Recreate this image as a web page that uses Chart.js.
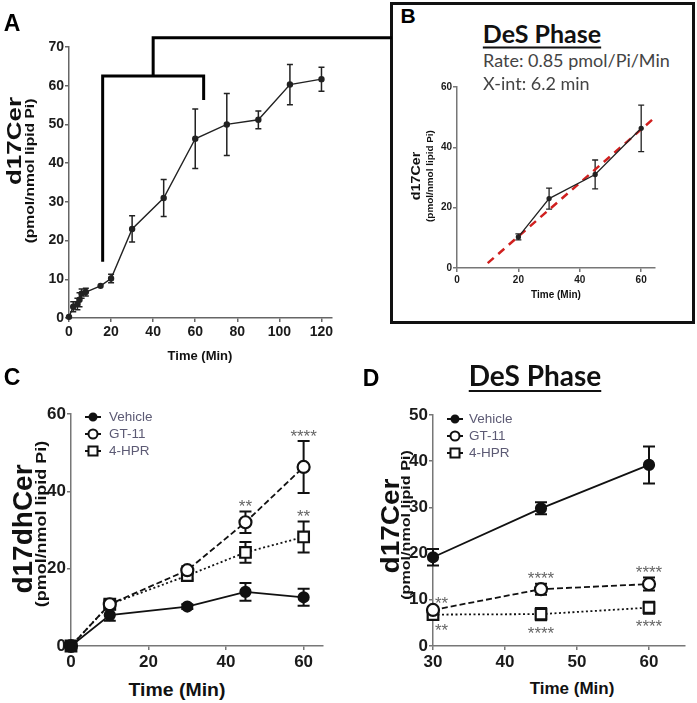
<!DOCTYPE html>
<html>
<head>
<meta charset="utf-8">
<title>d17Cer / d17dhCer time course</title>
<script src="https://cdn.jsdelivr.net/npm/chart.js@4.4.1/dist/chart.umd.min.js"></script>
<style>
  body { margin:0; background:#fff; }
  #page { position:relative; width:697px; height:703px; overflow:hidden; font-family:'Liberation Sans', Arial, sans-serif; }
  .t { position:absolute; white-space:nowrap; line-height:1; transform:translate(-50%,-50%); font-weight:bold; color:#111; }
  .letter { font-size:23px; color:#000; }
  .head { font-family:Lato, 'Open Sans', sans-serif; text-decoration:underline; text-decoration-thickness:2px; text-underline-offset:4px; }
  .note { position:absolute; white-space:nowrap; line-height:1; transform:translateY(-50%); font-family:Lato, 'Open Sans', sans-serif; font-size:18px; color:#444; }
  .box { position:absolute; }
  #boxB { position:absolute; left:390px; top:2px; width:299px; height:316px; border:3px solid #111; }
</style>
</head>
<body>
<div id="page">
  <div id="boxB"></div>

  <div class="box" style="left:0;top:0;width:392px;height:370px"><canvas id="chartA" width="392" height="370"></canvas></div>
  <div class="box" style="left:395px;top:75px;width:290px;height:230px"><canvas id="chartB" width="290" height="230"></canvas></div>
  <div class="box" style="left:0;top:400px;width:345px;height:275px"><canvas id="chartC" width="345" height="275"></canvas></div>
  <div class="box" style="left:350px;top:400px;width:347px;height:275px"><canvas id="chartD" width="347" height="275"></canvas></div>

  <div class="t letter" style="left:12px;top:23px">A</div>
  <div class="t letter" style="left:408px;top:15px;font-size:21px">B</div>
  <div class="t letter" style="left:12px;top:377px">C</div>
  <div class="t letter" style="left:371px;top:378px">D</div>

  <div class="t head" style="left:542px;top:33px;font-size:25px">DeS Phase</div>
  <div class="note" style="left:483px;top:60px">Rate: 0.85 pmol/Pi/Min</div>
  <div class="note" style="left:483px;top:83px">X-int: 6.2 min</div>
  <div class="t head" style="left:535px;top:375px;font-size:28px">DeS Phase</div>

  <!-- axis titles -->
  <div class="t" style="left:14px;top:141px;font-size:20px;transform:translate(-50%,-50%) rotate(-90deg) scaleX(1.3)">d17Cer</div>
  <div class="t" style="left:30px;top:171px;font-size:12px;transform:translate(-50%,-50%) rotate(-90deg) scaleX(1.3)">(pmol/nmol lipid Pi)</div>
  <div class="t" style="left:200px;top:355px;font-size:13px">Time (Min)</div>

  <div class="t" style="left:415px;top:176px;font-size:13px;transform:translate(-50%,-50%) rotate(-90deg) scaleX(1.1)">d17Cer</div>
  <div class="t" style="left:430px;top:176px;font-size:9px;transform:translate(-50%,-50%) rotate(-90deg) scaleX(1.1)">(pmol/nmol lipid Pi)</div>
  <div class="t" style="left:556px;top:295px;font-size:10px">Time (Min)</div>

  <div class="t" style="left:23px;top:529px;font-size:28px;transform:translate(-50%,-50%) rotate(-90deg)">d17dhCer</div>
  <div class="t" style="left:41px;top:524px;font-size:14px;transform:translate(-50%,-50%) rotate(-90deg) scaleX(1.28)">(pmol/nmol lipid Pi)</div>
  <div class="t" style="left:177px;top:690px;font-size:18px;transform:translate(-50%,-50%) scaleX(1.08)">Time (Min)</div>

  <div class="t" style="left:390px;top:526px;font-size:25px;transform:translate(-50%,-50%) rotate(-90deg) scaleX(1.12)">d17Cer</div>
  <div class="t" style="left:405px;top:525px;font-size:13px;transform:translate(-50%,-50%) rotate(-90deg) scaleX(1.24)">(pmol/nmol lipid Pi)</div>
  <div class="t" style="left:572px;top:688px;font-size:17px">Time (Min)</div>
</div>

<script>
// values
const timeA = [0, 2, 4, 5, 6, 8, 15, 20, 30, 45, 60, 75, 90, 105, 120];
const cerA = [0.3, 2.9, 3.6, 4.7, 6.3, 6.7, 8.3, 10.2, 23, 31, 46.3, 50, 51.2, 60.3, 61.7];
const cerErrA = [0, 1.3, 1.5, 1.8, 1.2, 1, 0, 1.1, 3.4, 4.8, 7.7, 8, 2.3, 5.2, 3.1];

const timeB = [20, 30, 45, 60];
const cerB = [10.3, 23, 31, 46.3];
const cerErrB = [1, 3.5, 4.8, 7.7];
const fitTimeB = [10, 64];
const fitCerB = [1.6, 49.5];

const seriesNames = ['Vehicle', 'GT-11', '4-HPR'];

const timeC = [0, 10, 30, 45, 60];
const vehicleC = [0, 8, 10.2, 14, 12.6];
const vehicleErrC = [0, 1.5, 0.6, 2.3, 2.2];
const gt11C = [0, 10.8, 19.6, 32, 46.3];
const gt11ErrC = [0, 1, 1, 2.8, 6.7];
const hprC = [0, 10.8, 18.2, 24.2, 28.2];
const hprErrC = [0, 1, 1, 2.7, 4];

const timeD = [30, 45, 60];
const vehicleD = [19.2, 29.8, 39.2];
const vehicleErrD = [1.8, 1.3, 4];
const gt11D = [7.8, 12.3, 13.4];
const gt11ErrD = [0.6, 1.2, 1.4];
const hprD = [6.8, 6.9, 8.3];
const hprErrD = [0.8, 1.3, 1.3];

// significance marks: [series, point, text, side]
const starsC = [[1, 3, '**', 'above'], [1, 4, '****', 'above'], [2, 4, '**', 'above']];
const starsD = [[1, 0, '**', 'aboveRight'], [2, 0, '**', 'belowRight'],
                [1, 1, '****', 'above'], [2, 1, '****', 'below'],
                [1, 2, '****', 'above'], [2, 2, '****', 'below']];

// bracket in A (data units)
const bracketA = { start: 16, end: 64, stem: 40, low: 14.5, top: 62.5, endLow: 56.3, high: 72.4 };

const SANS = "'Liberation Sans', Arial, sans-serif";
const pts = (xs, ys) => xs.map((x, i) => ({ x: x, y: ys[i] }));

const errorBars = {
  id: 'errorBars',
  beforeDatasetsDraw(chart) {
    const { ctx, scales: { x, y } } = chart;
    chart.data.datasets.forEach(ds => {
      if (!ds.errors) return;
      const cap = ds.cap || 4;
      ctx.save();
      ctx.strokeStyle = ds.borderColor;
      ctx.lineWidth = ds.errWidth || 1.5;
      ctx.setLineDash([]);
      ds.data.forEach((p, j) => {
        const e = ds.errors[j];
        if (!e) return;
        const px = x.getPixelForValue(p.x);
        const top = y.getPixelForValue(p.y + e), bot = y.getPixelForValue(p.y - e);
        ctx.beginPath();
        ctx.moveTo(px, top); ctx.lineTo(px, bot);
        ctx.moveTo(px - cap, top); ctx.lineTo(px + cap, top);
        ctx.moveTo(px - cap, bot); ctx.lineTo(px + cap, bot);
        ctx.stroke();
      });
      ctx.restore();
    });
  }
};

const starsPlugin = {
  id: 'stars',
  afterDatasetsDraw(chart, args, opts) {
    if (!opts.items) return;
    const { ctx, scales: { x, y } } = chart;
    ctx.save();
    ctx.fillStyle = '#666';
    ctx.font = opts.size + 'px ' + SANS;
    ctx.textBaseline = 'alphabetic';
    opts.items.forEach(it => {
      const ds = chart.data.datasets[it[0]];
      const p = ds.data[it[1]], e = ds.errors[it[1]] || 0;
      let px = x.getPixelForValue(p.x), py;
      const side = it[3];
      if (side === 'above') py = y.getPixelForValue(p.y + e) - opts.gap;
      else if (side === 'below') py = y.getPixelForValue(p.y - e) + opts.gap;
      else if (side === 'aboveRight') py = y.getPixelForValue(p.y) - 11;
      else py = y.getPixelForValue(p.y) + 12;
      if (side.endsWith('Right')) { ctx.textAlign = 'left'; px += 2; }
      else ctx.textAlign = 'center';
      ctx.fillText(it[2], px, py + opts.size * 0.57);
    });
    ctx.restore();
  }
};

const insideLegend = {
  id: 'insideLegend',
  afterDraw(chart, args, opts) {
    if (!opts.show) return;
    const { ctx, chartArea } = chart;
    chart.data.datasets.forEach((ds, i) => {
      const cx = chartArea.left + opts.left;
      const cy = chartArea.top + opts.top + i * opts.gap;
      ctx.save();
      ctx.strokeStyle = '#111';
      ctx.lineWidth = 2;
      ctx.beginPath(); ctx.moveTo(cx - 8, cy); ctx.lineTo(cx + 8, cy); ctx.stroke();
      ctx.fillStyle = ds.pointBackgroundColor;
      ctx.beginPath();
      if (ds.pointStyle === 'rect') {
        ctx.rect(cx - 4.5, cy - 4.5, 9, 9);
      } else {
        ctx.arc(cx, cy, ds.pointRadius - 1.5, 0, Math.PI * 2);
      }
      ctx.fill(); ctx.stroke();
      ctx.fillStyle = '#5c5a74';
      ctx.font = '13.5px ' + SANS;
      ctx.textBaseline = 'middle';
      ctx.textAlign = 'left';
      ctx.fillText(ds.label, cx + opts.text, cy);
      ctx.restore();
    });
  }
};

const bracketPlugin = {
  id: 'bracket',
  afterDraw(chart, args, opts) {
    if (!opts.show) return;
    const { ctx, scales: { x, y } } = chart;
    const X = v => x.getPixelForValue(v), Y = v => y.getPixelForValue(v);
    ctx.save();
    ctx.strokeStyle = '#000';
    ctx.lineWidth = 3;
    ctx.beginPath();
    ctx.moveTo(X(bracketA.start), Y(bracketA.low));
    ctx.lineTo(X(bracketA.start), Y(bracketA.top));
    ctx.lineTo(X(bracketA.end), Y(bracketA.top));
    ctx.lineTo(X(bracketA.end), Y(bracketA.endLow));
    ctx.moveTo(X(bracketA.stem), Y(bracketA.top));
    ctx.lineTo(X(bracketA.stem), Y(bracketA.high));
    ctx.lineTo(chart.width, Y(bracketA.high));
    ctx.stroke();
    ctx.restore();
  }
};

function axis(min, max, step, font, fit, color, pad) {
  return {
    type: 'linear', min: min, max: max,
    afterFit: fit,
    grid: { drawOnChartArea: false, drawTicks: true, tickLength: 4, color: color, lineWidth: 1.5 },
    border: { display: true, color: color, width: 1.5 },
    ticks: { stepSize: step, includeBounds: false, autoSkip: false, maxRotation: 0, padding: pad,
             color: '#1a1a1a', font: font }
  };
}

function makeChart(id, datasets, o) {
  return new Chart(document.getElementById(id), {
    type: 'line',
    data: { datasets: datasets },
    options: {
      responsive: false, animation: false, devicePixelRatio: 1,
      layout: { padding: o.pad },
      plugins: {
        legend: { display: false }, tooltip: { enabled: false },
        insideLegend: o.legend || {}, stars: o.stars || {}, bracket: o.bracket || {}
      },
      scales: {
        x: axis(o.x[0], o.x[1], o.x[2], o.font, s => { s.height = o.xh; }, o.axisColor, 2),
        y: axis(o.y[0], o.y[1], o.y[2], o.font, s => { s.width = o.yw; }, o.axisColor, 1)
      }
    },
    plugins: [errorBars, starsPlugin, insideLegend, bracketPlugin]
  });
}

const styles = [
  { dash: [], shape: 'circle', fill: '#111', r: 5 },
  { dash: [6, 3], shape: 'circle', fill: '#fff', r: 6 },
  { dash: [2, 2.5], shape: 'rect', fill: '#fff', r: 7.5 }
];

function groupSets(time, vals, errs) {
  return vals.map((v, i) => ({
    label: seriesNames[i], data: pts(time, v), errors: errs[i], cap: 6, errWidth: 2,
    borderColor: '#111', borderWidth: 1.8, borderDash: styles[i].dash,
    pointStyle: styles[i].shape, pointRadius: styles[i].r,
    pointBackgroundColor: styles[i].fill, pointBorderColor: '#111', pointBorderWidth: 2.2,
    clip: false, tension: 0
  }));
}

// A: full time course
makeChart('chartA', [{
  data: pts(timeA, cerA), errors: cerErrA, cap: 3, errWidth: 1.5,
  borderColor: '#222', borderWidth: 1.4, pointRadius: 2.5, pointBackgroundColor: '#222',
  pointBorderColor: '#222', clip: false
}], {
  pad: { top: 47, right: 60, left: 0, bottom: 0 }, xh: 52, yw: 69,
  x: [0, 125, 20], y: [0, 70, 10], axisColor: '#666',
  font: { family: SANS, size: 14, weight: 'bold' },
  bracket: { show: true }
});

// B: DeS phase inset with linear fit
makeChart('chartB', [{
  data: pts(timeB, cerB), errors: cerErrB, cap: 3, errWidth: 1.3,
  borderColor: '#222', borderWidth: 1.3, pointRadius: 2, pointBackgroundColor: '#222',
  pointBorderColor: '#222', clip: false
}, {
  data: pts(fitTimeB, fitCerB), borderColor: '#d0201f', borderWidth: 2.5,
  borderDash: [8, 6], pointRadius: 0, clip: false
}], {
  pad: { top: 12, right: 30, left: 0, bottom: 0 }, xh: 37, yw: 62,
  x: [0, 64.5, 20], y: [0, 60, 20], axisColor: '#777',
  font: { family: SANS, size: 10, weight: 'bold' }
});

// C: d17dhCer with inhibitors
makeChart('chartC', groupSets(timeC, [vehicleC, gt11C, hprC], [vehicleErrC, gt11ErrC, hprErrC]), {
  pad: { top: 14, right: 22, left: 0, bottom: 0 }, xh: 29, yw: 71,
  x: [0, 65, 20], y: [0, 60, 20], axisColor: '#777',
  font: { family: SANS, size: 17, weight: 'bold' },
  legend: { show: true, left: 22, top: 3, gap: 17, text: 16 },
  stars: { items: starsC, size: 17, gap: 9 }
});

// D: d17Cer during DeS phase
makeChart('chartD', groupSets(timeD, [vehicleD, gt11D, hprD], [vehicleErrD, gt11ErrD, hprErrD]), {
  pad: { top: 15, right: 12, left: 0, bottom: 0 }, xh: 29, yw: 83,
  x: [30, 65, 10], y: [0, 50, 10], axisColor: '#777',
  font: { family: SANS, size: 17, weight: 'bold' },
  legend: { show: true, left: 22, top: 4, gap: 17, text: 14 },
  stars: { items: starsD, size: 17, gap: 9 }
});
</script>
</body>
</html>
